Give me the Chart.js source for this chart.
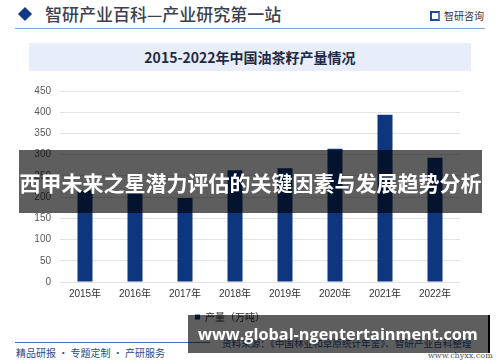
<!DOCTYPE html>
<html><head><meta charset="utf-8">
<script src="https://cdn.jsdelivr.net/npm/chart.js@4.4.1/dist/chart.umd.min.js"></script>
<style>
html,body{margin:0;padding:0;background:#fff;}
#wrap{position:relative;width:500px;height:362px;overflow:hidden;background:#fff;font-family:"Noto Sans CJK SC","Noto Sans",sans-serif;}
.abs{position:absolute;white-space:nowrap;}
#chartBox{position:absolute;left:0;top:76px;width:500px;height:256px;}
</style></head>
<body>
<div id="wrap">
  <div class="abs" style="left:20px;top:9px;width:10px;height:10px;background:#123a86;transform:rotate(45deg);"></div>
  <div class="abs" style="left:45px;top:2px;font-size:17px;line-height:24px;color:#3c3f4c;font-weight:500;">智研产业百科—产业研究第一站</div>
  <div class="abs" style="left:430px;top:11px;width:10px;height:10px;border:2px solid #1e4a9a;box-sizing:border-box;border-right-color:#4a7fd0;"></div>
  <div class="abs" style="left:444px;top:9px;font-size:10px;line-height:14px;color:#333;">智研咨询</div>
  <div class="abs" style="left:15px;top:27.5px;width:470px;height:1.5px;background:#86a3d4;"></div>
  <div class="abs" style="left:29px;top:43px;width:442px;height:28px;background:#e7eef9;"></div>
  <div class="abs" style="left:29px;top:43px;width:442px;height:28px;line-height:28px;text-align:center;font-size:14px;font-weight:700;color:#1f2a44;">2015-2022年中国油茶籽产量情况</div>
  <div id="chartBox"><canvas id="c" width="500" height="256"></canvas></div>
  <div class="abs" style="left:15px;top:342px;width:195px;height:1.2px;background:#4a6fb5;"></div>
  <div class="abs" style="left:16px;top:346px;font-size:10px;line-height:14px;color:#2b4a8a;">精品研报 · 专题定制 · 产研服务</div>
  <div class="abs" style="left:222px;top:336px;font-size:9.6px;line-height:14px;color:#2c4d94;">资料来源：《中国林业和草原统计年鉴》、智研产业百科整理</div>
  <div class="abs" style="left:428px;top:351px;font-size:8px;line-height:10px;color:#555;font-family:'DejaVu Serif',serif;">www.chyxx.com</div>
  <div class="abs" style="left:19px;top:150px;width:463px;height:63px;background:rgba(0,0,0,0.63);"></div>
  <div class="abs" style="left:19px;top:150px;width:463px;height:63px;line-height:65px;text-align:center;font-size:21px;font-weight:700;color:#fff;">西甲未来之星潜力评估的关键因素与发展趋势分析</div>
  <div class="abs" style="left:188px;top:315px;width:302px;height:38px;background:rgba(0,0,0,0.63);"></div>
  <div class="abs" style="left:488px;top:315px;width:2px;height:38px;background:#000;"></div>
  <div id="url" class="abs" style="left:198px;top:315px;height:38px;line-height:38px;font-size:18px;font-weight:700;color:#fff;font-family:'Open Sans','DejaVu Sans',sans-serif;">www.global-ngentertainment.com</div>
</div>
<script>
const years = ["2015年","2016年","2017年","2018年","2019年","2020年","2021年","2022年"];
const production = [216, 209, 198, 263, 268, 314, 394, 293];
const yTicks = [0, 50, 100, 150, 200, 250, 300, 350, 400, 450];
const seriesName = "产量（万吨）";

(function fitUrl(){
  const el = document.getElementById('url');
  const target = 280;
  const w = el.getBoundingClientRect().width;
  if (w > 0) el.style.fontSize = (18 * target / w).toFixed(2) + 'px';
})();

new Chart(document.getElementById('c'), {
  type: 'bar',
  data: { labels: years, datasets: [{ label: seriesName, data: production, backgroundColor: '#0d367f', categoryPercentage: 1, barPercentage: 0.3 }] },
  options: {
    responsive: false, animation: false,
    layout: { padding: { left: 0, right: 40, top: 2, bottom: 0 } },
    plugins: {
      tooltip: { enabled: false },
      legend: { position: 'bottom', labels: { boxWidth: 5, boxHeight: 5, padding: 8, color: '#333', font: { size: 10, family: '"Noto Sans CJK SC", sans-serif' } } }
    },
    scales: {
      x: {
        grid: { display: false, drawTicks: false },
        border: { display: false },
        ticks: { color: '#333', padding: 6, font: { size: 10, family: '"Liberation Sans", "Noto Sans CJK SC", sans-serif' } },
        afterFit: s => { s.height = 22; }
      },
      y: {
        min: 0, max: 450,
        afterBuildTicks: s => { s.ticks = yTicks.map(v => ({ value: v })); },
        grid: { color: '#e3e3e3', drawTicks: false, lineWidth: 1 },
        border: { display: false },
        ticks: { color: '#595959', padding: 9, font: { size: 10, family: '"Liberation Sans", sans-serif' } },
        afterFit: s => { s.width = 60; }
      }
    }
  }
});
</script>
</body></html>
